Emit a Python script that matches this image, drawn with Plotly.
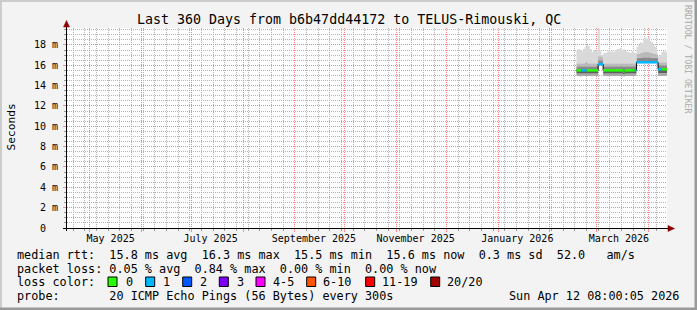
import plotly.graph_objects as go
import pandas as pd

# ---------------- data ----------------
RANGE_START = "2025-04-17 08:00:05"
RANGE_END = "2026-04-12 08:00:05"

sample_dates = list(pd.date_range("2026-02-17", "2026-04-12", freq="D").strftime("%Y-%m-%d"))

median_ms = [15.5, 15.5, 15.5, 15.5, 15.5, 15.5, 15.5, 15.5, 15.5, 15.5, 15.5, 15.5, 15.5,
             16.1, 16.1, 16.1,
             15.5, 15.5, 15.5, 15.5, 15.5, 15.5, 15.5, 15.5, 15.5, 15.5, 15.5, 15.5, 15.4, 15.5,
             15.5, 15.5, 15.5, 15.5, 15.5, 15.5,
             16.3, 16.3, 16.3, 16.3, 16.3, 16.3, 16.3, 16.3, 16.3, 16.3, 16.3, 16.3, 16.3,
             15.6, 15.6, 15.6, 15.6, 15.6, 15.6]

loss_count = [0, 0, 0, 1, 1, 1, 0, 0, 0, 0, 0, 0, 0,
              1, 1, 1,
              0, 0, 0, 0, 0, 0, 0, 0, 0, 0, 0, 0, 0, 0,
              0, 0, 0, 0, 0, 1,
              1, 1, 1, 1, 1, 1, 1, 1, 1, 1, 1, 1, 1,
              1, 1, 0, 0, 0, 0]

smoke_min = [14.95, 14.95, 14.9, 14.95, 14.95, 14.95, 14.95, 14.95, 14.95, 14.95, 14.95, 14.95, 14.95,
             16.0, 16.0, 16.0,
             14.95, 14.95, 14.95, 14.95, 14.95, 14.95, 14.95, 14.95, 14.95, 14.95, 14.95, 14.95, 14.9, 14.95,
             14.95, 14.95, 14.95, 14.95, 14.95, 14.95,
             16.2, 16.2, 16.2, 16.2, 16.2, 16.2, 16.2, 16.2, 16.2, 16.2, 16.2, 16.2, 16.2,
             14.95, 14.95, 14.95, 14.95, 14.95, 14.95]

smoke_p25 = [15.2, 15.2, 15.2, 15.2, 15.2, 15.2, 15.2, 15.2, 15.2, 15.2, 15.2, 15.2, 15.2,
             16.05, 16.05, 16.05,
             15.2, 15.2, 15.2, 15.2, 15.2, 15.2, 15.2, 15.2, 15.2, 15.2, 15.2, 15.2, 15.15, 15.2,
             15.2, 15.2, 15.2, 15.2, 15.2, 15.2,
             16.25, 16.25, 16.25, 16.25, 16.25, 16.25, 16.25, 16.25, 16.25, 16.25, 16.25, 16.25, 16.25,
             15.25, 15.25, 15.25, 15.25, 15.25, 15.25]

smoke_p75 = [15.9, 15.9, 15.9, 15.9, 15.9, 15.9, 15.9, 15.9, 15.9, 15.9, 15.9, 15.9, 15.9,
             16.5, 16.5, 16.5,
             15.9, 15.9, 15.9, 15.9, 15.9, 15.9, 15.9, 15.9, 15.9, 15.9, 15.9, 15.9, 15.9, 15.9,
             15.9, 15.9, 15.9, 15.9, 15.9, 15.9,
             16.75, 16.75, 16.75, 16.8, 16.8, 16.8, 16.8, 16.8, 16.8, 16.75, 16.75, 16.75, 16.75,
             16.0, 16.0, 16.0, 16.0, 16.0, 16.0]

smoke_p90 = [16.2, 16.2, 16.2, 16.2, 16.2, 16.3, 16.3, 16.2, 16.2, 16.2, 16.2, 16.2, 16.2,
             16.9, 16.9, 16.9,
             16.2, 16.2, 16.2, 16.2, 16.2, 16.2, 16.2, 16.2, 16.2, 16.2, 16.2, 16.2, 16.2, 16.2,
             16.2, 16.2, 16.2, 16.2, 16.2, 16.2,
             17.1, 17.1, 17.2, 17.2, 17.3, 17.3, 17.3, 17.3, 17.2, 17.2, 17.1, 17.1, 17.0,
             16.3, 16.3, 16.3, 16.3, 16.3, 16.3]

smoke_max = [17.4, 17.6, 17.5, 17.4, 17.6, 17.8, 18.0, 17.9, 17.6, 17.3, 17.5, 17.4, 17.5,
             19.6, 17.4, 17.0,
             17.2, 17.2, 17.3, 17.4, 17.3, 17.4, 17.3, 17.5, 17.6, 17.6, 17.7, 17.5, 17.6, 17.4,
             17.3, 17.3, 17.2, 17.4, 17.3, 17.2,
             17.8, 18.0, 18.3, 18.2, 18.5, 18.7, 18.6, 18.8, 18.4, 18.3, 18.0, 17.8, 17.2,
             16.9, 17.0, 17.3, 17.4, 17.3, 17.3]

month_grid_dates = ["2025-05-01", "2025-06-01", "2025-07-01", "2025-08-01", "2025-09-01",
                    "2025-10-01", "2025-11-01", "2025-12-01", "2026-01-01", "2026-02-01",
                    "2026-03-01", "2026-04-01"]
month_label_dates = ["2025-05-13 12:00", "2025-07-12 12:00", "2025-09-12 12:00",
                     "2025-11-12 12:00", "2026-01-12 12:00", "2026-03-14 12:00"]
month_labels = ["May 2025", "July 2025", "September 2025", "November 2025",
                "January 2026", "March 2026"]
week_grid_start = "2025-04-21"

y_ticks = [0, 2, 4, 6, 8, 10, 12, 14, 16, 18]
y_tick_labels = ["0\u00a0\u00a0", "2 m", "4 m", "6 m", "8 m", "10 m", "12 m", "14 m", "16 m", "18 m"]

loss_thresholds = [0, 1, 2, 3, 5, 10, 19, 20]
loss_names = ["0", "1", "2", "3", "4-5", "6-10", "11-19", "20/20"]
loss_colors = ["#26ff00", "#00b8ff", "#0059ff", "#7e00ff", "#ff00ff", "#ff5500", "#ff0000", "#a10000"]

title_text = "Last 360 Days from b6b47dd44172 to TELUS-Rimouski, QC"
line_rtt = "median rtt:  15.8 ms avg  16.3 ms max  15.5 ms min  15.6 ms now  0.3 ms sd  52.0   am/s"
line_loss = "packet loss: 0.05 % avg  0.84 % max  0.00 % min  0.00 % now"
line_color = "loss color:"
line_probe = "probe:       20 ICMP Echo Pings (56 Bytes) every 300s"
stamp_text = "Sun Apr 12 08:00:05 2026"

# ---------------- layout helpers ----------------
W, H = 697, 310
L, R, T, B = 67, 667, 28, 228
FONT = "DejaVu Sans Mono"
Y_MAX = (B - T) / 10.17


def px(x):
    return (x - L) / (R - L)


def py(y):
    return (B - y) / (B - T)


def nb(s):
    return s.replace(" ", "\u00a0")


def ext(a):
    return list(a) + [a[-1]]


xs = sample_dates + [RANGE_END]

fig = go.Figure()

# smoke bands (stacked fills)
bands = [
    (smoke_min, None),
    (smoke_p25, "#a8a8a8"),
    (median_ms, "#5e5e5e"),
    (smoke_p75, "#8a8a8a"),
    (smoke_p90, "#bababa"),
    (smoke_max, "#d9d9d9"),
]
for vals, col in bands:
    fig.add_trace(go.Scatter(
        x=xs, y=ext(vals), mode="lines", line=dict(width=0, shape="hv"),
        fill=None if col is None else "tonexty",
        fillcolor=col, hoverinfo="skip", showlegend=False))

# thin black median line (visible at steps)
fig.add_trace(go.Scatter(x=xs, y=ext(median_ms), mode="lines",
                         line=dict(color="#000000", width=1, shape="hv"),
                         hoverinfo="skip", showlegend=False))


def loss_cat(n):
    for k, t in enumerate(loss_thresholds):
        if n <= t:
            return k
    return len(loss_thresholds) - 1


cats = [loss_cat(n) for n in loss_count]
for k, col in enumerate(loss_colors):
    sx, sy = [], []
    i = 0
    n = len(median_ms)
    while i < n:
        if cats[i] == k:
            j = i
            while j + 1 < n and cats[j + 1] == k and median_ms[j + 1] == median_ms[i]:
                j += 1
            sx += [xs[i], xs[j + 1], None]
            sy += [median_ms[i], median_ms[i], None]
            i = j + 1
        else:
            i += 1
    if sx:
        fig.add_trace(go.Scatter(x=sx, y=sy, mode="lines",
                                 line=dict(color=col, width=2.5),
                                 hoverinfo="skip", showlegend=False))

# invisible traces so the overlay axes (labels, month grid) are drawn
for ax in ("x2", "x3"):
    fig.add_trace(go.Scatter(x=[sample_dates[0]], y=[median_ms[0]], xaxis=ax, mode="markers",
                             marker=dict(opacity=0), hoverinfo="skip", showlegend=False))

MINOR_GRID = "#b4b4b4"
MAJOR_GRID = "#ff8080"
DASH = "1px,1px"

fig.update_layout(
    width=W, height=H, autosize=False,
    margin=dict(l=L, r=W - R, t=T, b=H - B, pad=0),
    paper_bgcolor="#f3f3f3", plot_bgcolor="#ffffff",
    showlegend=False,
    font=dict(family=FONT, color="#000000", size=10),
    # weekly grey grid
    xaxis=dict(
        type="date", range=[RANGE_START, RANGE_END],
        tickmode="linear", tick0=week_grid_start, dtick=7 * 86400000, showticklabels=False,
        ticks="outside", ticklen=2, tickcolor="#999999",
        showgrid=True, gridcolor=MINOR_GRID, griddash=DASH, gridwidth=1,
        showline=False, zeroline=False,
    ),
    # month labels
    xaxis2=dict(
        type="date", range=[RANGE_START, RANGE_END], overlaying="x", anchor="y", side="bottom",
        tickmode="array", tickvals=month_label_dates, ticktext=month_labels,
        showgrid=False, ticks="", showline=False, zeroline=False,
        tickfont=dict(family=FONT, size=10, color="#000000"),
        ticklabelstandoff=3,
    ),
    # monthly red grid
    xaxis3=dict(
        type="date", range=[RANGE_START, RANGE_END], overlaying="x", anchor="y", side="bottom",
        tickmode="array", tickvals=month_grid_dates, showticklabels=False,
        ticks="outside", ticklen=3, tickcolor="#ff8a8a",
        showgrid=True, gridcolor=MAJOR_GRID, griddash=DASH, gridwidth=1,
        showline=False, zeroline=False,
    ),
    yaxis=dict(
        range=[0, Y_MAX], tickmode="array", tickvals=y_ticks, ticktext=y_tick_labels,
        ticks="outside", ticklen=3, tickcolor="#ff8a8a",
        showgrid=True, gridcolor=MAJOR_GRID, griddash=DASH, gridwidth=1,
        zeroline=False, showline=False,
        tickfont=dict(family=FONT, size=10, color="#000000"),
        ticklabelstandoff=3,
        minor=dict(tickmode="linear", tick0=0, dtick=0.5, showgrid=True,
                   gridcolor=MINOR_GRID, griddash=DASH, gridwidth=1,
                   ticks="outside", ticklen=2, tickcolor="#999999"),
    ),
)

shapes = []
# frame
shapes.append(dict(type="line", xref="paper", yref="paper", x0=px(0), x1=px(W), y0=py(1), y1=py(1),
                   line=dict(color="#cccccc", width=2)))
shapes.append(dict(type="line", xref="paper", yref="paper", x0=px(1), x1=px(1), y0=py(0), y1=py(H),
                   line=dict(color="#cccccc", width=2)))
shapes.append(dict(type="line", xref="paper", yref="paper", x0=px(W - 1), x1=px(W - 1), y0=py(0), y1=py(H),
                   line=dict(color="#9a9a9a", width=3)))
shapes.append(dict(type="line", xref="paper", yref="paper", x0=px(0), x1=px(W), y0=py(H - 1), y1=py(H - 1),
                   line=dict(color="#9a9a9a", width=3)))
# axes lines
shapes.append(dict(type="line", xref="paper", yref="paper", x0=px(66.5), x1=px(66.5), y0=py(B + 3), y1=py(24),
                   line=dict(color="#000000", width=1)))
shapes.append(dict(type="line", xref="paper", yref="paper", x0=px(63), x1=px(669), y0=py(B + 0.5), y1=py(B + 0.5),
                   line=dict(color="#000000", width=1)))
# arrows
shapes.append(dict(type="path", xref="paper", yref="paper",
                   path=f"M {px(63.5)} {py(27)} L {px(69.5)} {py(27)} L {px(66.5)} {py(20.5)} Z",
                   fillcolor="#8b0000", line=dict(color="#8b0000", width=0.5)))
shapes.append(dict(type="path", xref="paper", yref="paper",
                   path=f"M {px(668)} {py(225.5)} L {px(668)} {py(231.5)} L {px(674.5)} {py(228.5)} Z",
                   fillcolor="#8b0000", line=dict(color="#8b0000", width=0.5)))

# loss color swatches
swatch_x = [108, 145.7, 182.7, 219.3, 256, 306.7, 365.7, 430.7]
label_x = [124, 161.7, 198.3, 235, 271, 321.7, 380.7, 445.3]
for sxp, col in zip(swatch_x, loss_colors):
    shapes.append(dict(type="rect", xref="paper", yref="paper",
                       x0=px(sxp), x1=px(sxp + 9), y0=py(277), y1=py(286.5),
                       fillcolor=col, line=dict(color="#000000", width=1)))

annotations = []


def txt(s, x, y, size, anchor="left", color="#000000", angle=0):
    annotations.append(dict(text=nb(s), x=px(x), y=py(y), xref="paper", yref="paper",
                            xanchor=anchor, yanchor="middle", showarrow=False, textangle=angle,
                            font=dict(family=FONT, size=size, color=color)))


txt(title_text, 348.5, 19, 13.3, anchor="center")
txt(line_rtt, 15, 254.5, 11.8)
txt(line_loss, 15, 268.5, 11.8)
txt(line_color, 15, 282, 11.8)
for lx, name in zip(label_x, loss_names):
    txt(name, lx - 0.5, 282, 11.8)
txt(line_probe, 15, 296, 11.8)
txt(stamp_text, 681, 296, 11.8, anchor="right")
txt("Seconds", 10.5, 127, 11.2, anchor="center", angle=-90)
txt("RRDTOOL / TOBI OETIKER", 688, 59, 8.2, anchor="center", color="#aaaaaa", angle=90)

fig.update_layout(shapes=shapes, annotations=annotations)

fig.write_html("out.html")
